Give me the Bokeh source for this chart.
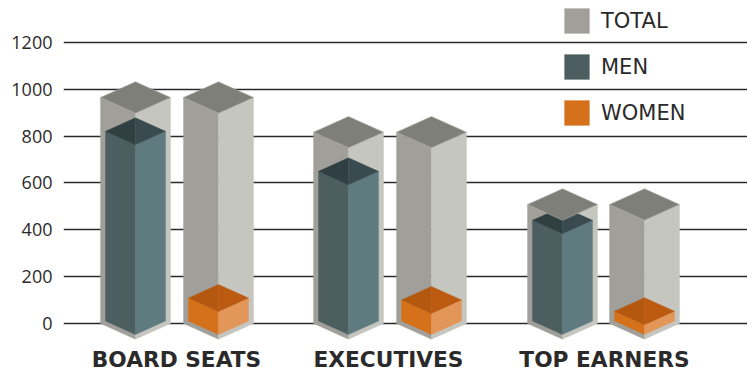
from bokeh.core.properties import value
from bokeh.embed import file_html
from bokeh.models import FixedTicker, Legend, LegendItem, Range1d
from bokeh.plotting import figure
from bokeh.resources import INLINE

# Chart values
categories = ["BOARD SEATS", "EXECUTIVES", "TOP EARNERS"]
total = [965, 817, 508]
men = [810, 639, 430]
women = [98, 90, 42]
y_ticks = [0, 200, 400, 600, 800, 1000, 1200]

# Layout, in screen pixels along x
group_centres = [176, 388, 604]
men_columns = [135, 348, 562]
women_columns = [218, 431, 644]
WIDTH, HEIGHT = 747, 370
LEFT = 63
PX_PER_UNIT = 0.2342
ZERO_PX = 323
LABEL_PX = 358.5

y_low = (ZERO_PX - HEIGHT) / PX_PER_UNIT
y_high = ZERO_PX / PX_PER_UNIT

p = figure(
    width=WIDTH, height=HEIGHT, output_backend="svg", toolbar_location=None,
    x_range=Range1d(LEFT, WIDTH), y_range=Range1d(y_low, y_high),
    min_border_left=LEFT, min_border_right=0, min_border_top=0,
    min_border_bottom=0,
)
p.outline_line_color = None
p.background_fill_color = "white"
p.border_fill_color = "white"
p.xaxis.visible = False

p.xgrid.visible = False
p.ygrid.ticker = FixedTicker(ticks=y_ticks)
p.ygrid.grid_line_color = "#2b2a2b"
p.ygrid.grid_line_width = 1.7

p.yaxis.ticker = FixedTicker(ticks=y_ticks)
p.yaxis.axis_line_color = None
p.yaxis.major_tick_line_color = None
p.yaxis.minor_tick_line_color = None
p.yaxis.major_tick_out = 0
p.yaxis.major_label_standoff = 11
p.yaxis.major_label_text_font = "Open Sans"
p.yaxis.major_label_text_font_size = "18px"
p.yaxis.major_label_text_color = "#2b2a2b"


def prism_faces(centres, values, half_width, rise_px, base):
    """Return left, right and roof polygons of isometric columns."""
    rise = rise_px / PX_PER_UNIT
    left_x, left_y, right_x, right_y, roof_x, roof_y = [], [], [], [], [], []
    for cx, v in zip(centres, values):
        top = v + base
        left_x.append([cx - half_width, cx, cx, cx - half_width])
        left_y.append([top, top - rise, base - rise, base])
        right_x.append([cx, cx + half_width, cx + half_width, cx])
        right_y.append([top - rise, top, base, base - rise])
        roof_x.append([cx - half_width, cx, cx + half_width, cx])
        roof_y.append([top, top + rise, top, top - rise])
    return left_x, left_y, right_x, right_y, roof_x, roof_y


def draw_faces(faces, left, right):
    lx, ly, rx, ry = faces[:4]
    a = p.patches(lx, ly, fill_color=left, line_color=left, line_width=0.4)
    p.patches(rx, ry, fill_color=right, line_color=right, line_width=0.4)
    return a


def draw_split_roof(faces, west, east):
    # A roof is shaded in two halves, split along its vertical seam
    rx, ry = faces[4], faces[5]
    wx = [[x[0], x[1], x[3]] for x in rx]
    wy = [[y[0], y[1], y[3]] for y in ry]
    ex = [[x[1], x[2], x[3]] for x in rx]
    ey = [[y[1], y[2], y[3]] for y in ry]
    p.patches(wx, wy, fill_color=west, line_color=west, line_width=0.4)
    p.patches(ex, ey, fill_color=east, line_color=east, line_width=0.4)


inner_base = 2.5 / PX_PER_UNIT
total_columns = men_columns + women_columns
total_values = total + total

total_faces = prism_faces(total_columns, total_values, 35, 15.7, 0)
men_faces = prism_faces(men_columns, men, 30, 13.5, inner_base)
women_faces = prism_faces(women_columns, women, 30, 13.5, inner_base)

total_r = draw_faces(total_faces, "#a09f99", "#c5c6c0")
men_r = draw_faces(men_faces, "#4c5e60", "#5f7b80")
draw_split_roof(men_faces, "#2f3f42", "#3a4b50")
women_r = draw_faces(women_faces, "#d4711a", "#e29758")
draw_split_roof(women_faces, "#b4580f", "#bc5a12")
p.patches(total_faces[4], total_faces[5], fill_color="#7f7f79",
          line_color="#a9a9a3", line_width=0.6)

# Group names under the columns
p.text(
    x=group_centres,
    y=[(ZERO_PX - LABEL_PX) / PX_PER_UNIT] * len(categories),
    text=categories, text_align="center", text_baseline="middle",
    text_font=value("DejaVu Sans"), text_font_style="bold",
    text_font_size="21.7px", text_color="#2b2a2b",
)

# The legend insets its swatches by a tenth of the glyph box on every side
legend = Legend(
    items=[
        LegendItem(label="TOTAL", renderers=[total_r]),
        LegendItem(label="MEN", renderers=[men_r]),
        LegendItem(label="WOMEN", renderers=[women_r]),
    ],
    location=(561 - LEFT, HEIGHT - 128),
    orientation="vertical",
    padding=0, margin=0, spacing=15,
    glyph_width=31, glyph_height=31, label_height=31, label_standoff=9,
    label_text_font="DejaVu Sans", label_text_font_size="21px",
    label_text_color="#2b2a2b", label_text_baseline="middle",
    background_fill_alpha=0, border_line_alpha=0,
)
p.add_layout(legend)

open("out.html", "w").write(file_html(p, INLINE))
